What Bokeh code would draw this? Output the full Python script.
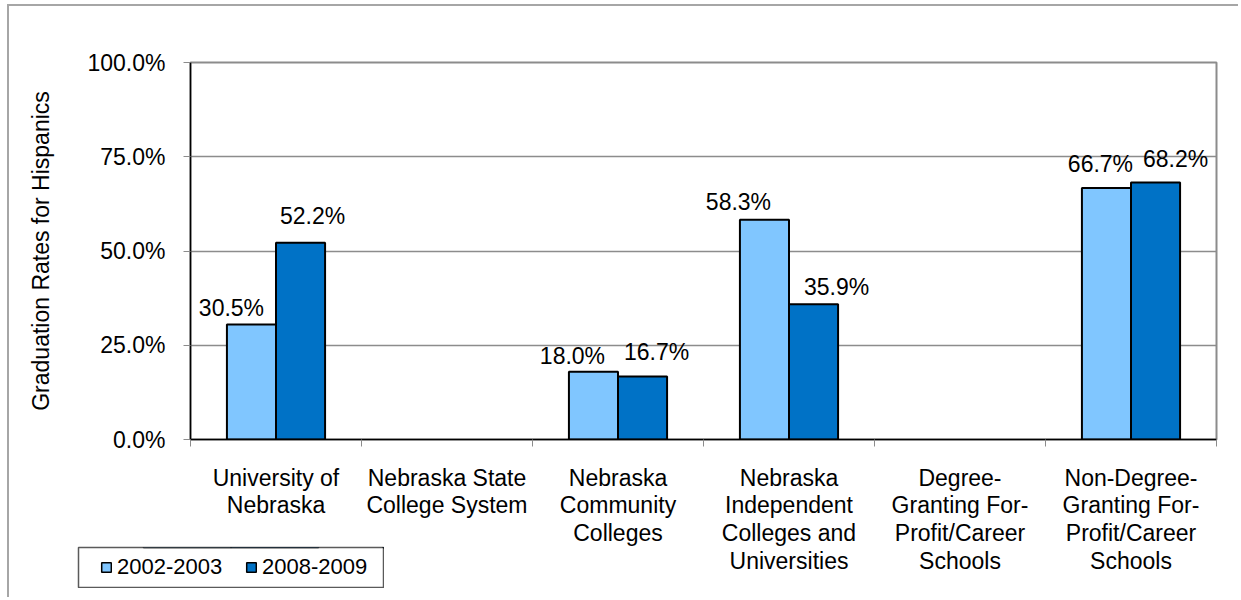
from bokeh.plotting import figure
from bokeh.models import ColumnDataSource, FixedTicker, PrintfTickFormatter, Legend, LegendItem, Range1d
from bokeh.embed import file_html
from bokeh.resources import INLINE
from bokeh.core.properties import value

categories = [
    "University of\nNebraska",
    "Nebraska State\nCollege System",
    "Nebraska\nCommunity\nColleges",
    "Nebraska\nIndependent\nColleges and\nUniversities",
    "Degree-\nGranting For-\nProfit/Career\nSchools",
    "Non-Degree-\nGranting For-\nProfit/Career\nSchools",
]
series = ["2002-2003", "2008-2009"]
rates_2002_2003 = [30.5, None, 18.0, 58.3, None, 66.7]
rates_2008_2009 = [52.2, None, 16.7, 35.9, None, 68.2]
y_ticks = [0, 25, 50, 75, 100]
y_axis_title = "Graduation Rates for Hispanics"

# label nudges in px (Excel moved labels aside to avoid collisions)
label_dx_2002 = [-20, 0, -21, -26, 0, -6]
label_up_2002 = [9, 0, 8, 10, 0, 16]
label_dx_2008 = [12, 0, 14, 23, 0, 20]
label_up_2008 = [19, 0, 17, 9, 0, 15]
BASELINE_FIX = 8

colors = ["#80C6FF", "#0072C6"]
FONT = "Liberation Sans"
FS = "23px"
LFS = "22px"
BAR_W = 0.287

p = figure(width=1231, height=593, output_backend="svg", toolbar_location=None,
           x_range=Range1d(0, len(categories)), y_range=Range1d(0, 100),
           min_border_left=181, min_border_right=24, min_border_top=56, min_border_bottom=160)
p.styles = {"margin-left": "7px", "margin-top": "4px",
            "border-left": "2px solid #a6a6a6", "border-top": "2px solid #a6a6a6"}
p.outline_line_color = "#8c8c8c"
p.outline_line_width = 2
p.background_fill_color = "white"
p.border_fill_color = "white"

sources = []
for k, (vals, dxs, ups) in enumerate([(rates_2002_2003, label_dx_2002, label_up_2002),
                                      (rates_2008_2009, label_dx_2008, label_up_2008)]):
    off = (-0.5 + k) * BAR_W
    xs, tops, labels, dx, dy = [], [], [], [], []
    for i, v in enumerate(vals):
        if v is None:
            continue
        xs.append(i + 0.5 + off)
        tops.append(v)
        labels.append(f"{v:.1f}%")
        dx.append(dxs[i])
        dy.append(-(ups[i] + BASELINE_FIX))
    src = ColumnDataSource(dict(x=xs, top=tops, label=labels, dx=dx, dy=dy))
    sources.append(src)
    p.vbar(x="x", top="top", bottom=0, width=BAR_W, source=src,
           fill_color=colors[k], line_color="black", line_width=2)
    p.text(x="x", y="top", text="label", x_offset="dx", y_offset="dy", source=src,
           text_align="center", text_baseline="alphabetic",
           text_font=value(FONT), text_font_size=FS, text_color="black")

# grid
p.xgrid.visible = False
p.ygrid.ticker = FixedTicker(ticks=y_ticks)
p.ygrid.grid_line_color = "#8c8c8c"
p.ygrid.grid_line_width = 1.5

# y axis
ya = p.yaxis[0]
ya.ticker = FixedTicker(ticks=y_ticks)
ya.formatter = PrintfTickFormatter(format="%.1f%%")
ya.axis_line_color = "black"
ya.axis_line_width = 1.5
ya.major_tick_out = 7
ya.major_tick_in = 0
ya.major_tick_line_color = "#8c8c8c"
ya.minor_tick_line_color = None
ya.major_label_standoff = 18
ya.major_label_text_font = FONT
ya.major_label_text_font_size = FS
ya.major_label_text_color = "black"
ya.axis_label = y_axis_title
ya.axis_label_text_font = FONT
ya.axis_label_text_font_size = FS
ya.axis_label_text_font_style = "normal"
ya.axis_label_text_color = "black"
ya.axis_label_standoff = 30

# x axis
xa = p.xaxis[0]
centers = [i + 0.5 for i in range(len(categories))]
xa.ticker = FixedTicker(ticks=centers, minor_ticks=list(range(len(categories) + 1)))
xa.major_label_overrides = {c: lab for c, lab in zip(centers, categories)}
xa.axis_line_color = "black"
xa.axis_line_width = 1.5
xa.major_tick_line_color = None
xa.major_tick_out = 0
xa.major_tick_in = 0
xa.minor_tick_line_color = "#8c8c8c"
xa.minor_tick_out = 7
xa.minor_tick_in = 0
xa.major_label_standoff = 18
xa.major_label_text_font = FONT
xa.major_label_text_font_size = FS
xa.major_label_text_color = "black"
xa.major_label_text_line_height = 1.07

# legend: a small overlay figure (center annotations of the main plot are clipped to its frame).
# Its frame outline is the legend box; the bars it shares lie outside its (empty) view.
pl = figure(width=307, height=42, output_backend="svg", toolbar_location=None,
            x_axis_location=None, y_axis_location=None,
            x_range=Range1d(0, 1), y_range=Range1d(-2, -1),
            min_border=1, min_border_left=1, min_border_right=1, min_border_top=1, min_border_bottom=1)
pl.styles = {"position": "absolute", "left": "77px", "top": "546px"}
pl.outline_line_color = "#5a5a5a"
pl.outline_line_width = 1.5
pl.background_fill_color = "white"
pl.border_fill_alpha = 0
pl.grid.visible = False
leg_renderers = [pl.vbar(x="x", top="top", bottom=0, width=BAR_W, source=s,
                         fill_color=c, line_color="black", line_width=1.5)
                 for s, c in zip(sources, colors)]
legend = Legend(items=[LegendItem(label=s, renderers=[r]) for s, r in zip(series, leg_renderers)],
                location=(22, 7), orientation="horizontal",
                glyph_width=12, glyph_height=12, label_standoff=5, label_width=112,
                spacing=16, padding=0, margin=0,
                label_text_font=FONT, label_text_font_size=LFS, label_text_color="black",
                border_line_color=None, background_fill_alpha=0)
pl.add_layout(legend, "center")

open("out.html", "w").write(file_html([p, pl], INLINE))
